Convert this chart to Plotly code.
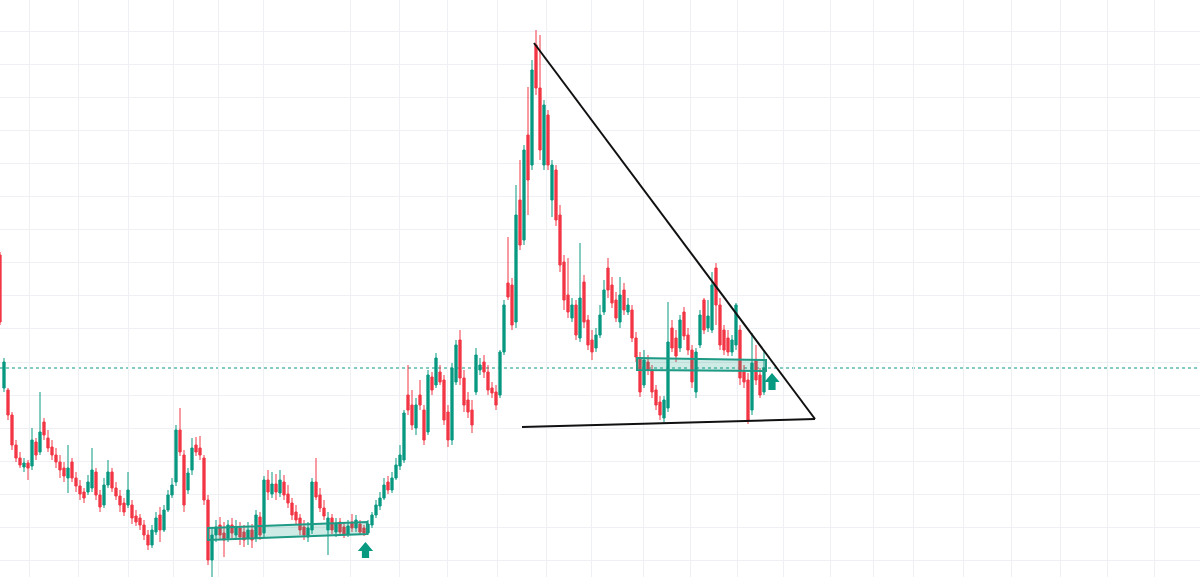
import plotly.graph_objects as go

# ---- data (candle index, OHLC) ----
opens = [345, 212, 210, 185, 155, 142, 133, 137, 134, 158, 148, 178, 162, 153, 145, 138, 132, 122, 138, 122, 114,
         108, 108, 112, 128, 105, 95, 115, 128, 112, 104, 97, 95, 95, 84, 82, 75, 65, 55, 68, 85, 70, 90, 105, 118,
         170, 145, 110, 130, 155, 152, 142, 100, 40, 65, 75, 67, 62, 75, 65, 72, 68, 62, 70, 62, 83, 67, 120, 106,
         116, 107, 118, 106, 97, 88, 82, 73, 63, 70, 118, 105, 92, 70, 82, 68, 78, 73, 66, 78, 72, 76, 72, 67, 75,
         85, 94, 102, 118, 110, 122, 134, 140, 205, 195, 172, 205, 190, 168, 223, 215, 228, 220, 188, 160, 218, 260,
         222, 200, 190, 208, 230, 238, 228, 212, 208, 205, 248, 317, 315, 278, 400, 360, 465, 435, 555, 512, 435, 485,
         400, 430, 385, 338, 305, 282, 295, 262, 318, 280, 260, 252, 265, 288, 332, 315, 300, 278, 310, 288, 290, 262,
         242, 215, 238, 230, 210, 198, 182, 192, 272, 262, 252, 288, 265, 250, 208, 255, 300, 272, 270, 332, 295, 270,
         262, 248, 255, 270, 228, 220, 190, 240, 225, 208]
highs = [348, 242, 212, 188, 160, 148, 142, 140, 172, 162, 208, 182, 170, 160, 152, 145, 138, 155, 142, 128, 120,
         112, 125, 152, 132, 110, 122, 140, 132, 118, 110, 102, 128, 100, 90, 86, 80, 70, 75, 88, 93, 95, 110, 122, 175,
         192, 150, 132, 162, 163, 164, 145, 105, 72, 80, 83, 78, 80, 82, 80, 78, 75, 78, 76, 90, 88, 124, 130, 128,
         126, 130, 125, 115, 102, 95, 86, 80, 78, 122, 142, 112, 100, 88, 86, 82, 82, 78, 80, 86, 85, 80, 75, 80, 88,
         100, 108, 122, 124, 128, 142, 155, 190, 235, 210, 202, 220, 195, 230, 228, 247, 235, 225, 195, 237, 260, 270,
         230, 208, 200, 252, 242, 245, 235, 218, 215, 250, 300, 363, 322, 415, 440, 455, 513, 540, 570, 565, 500, 490,
         440, 435, 395, 345, 342, 302, 300, 357, 325, 285, 270, 272, 295, 320, 342, 323, 308, 323, 317, 302, 295, 268,
         248, 250, 245, 235, 215, 204, 204, 298, 280, 270, 285, 293, 272, 255, 252, 290, 302, 300, 328, 337, 302, 275,
         270, 265, 297, 275, 235, 227, 267, 255, 232, 250]
lows = [275, 208, 180, 150, 138, 132, 128, 120, 130, 140, 145, 160, 148, 140, 132, 122, 118, 107, 118, 108, 100,
        97, 105, 108, 100, 88, 92, 112, 108, 100, 88, 84, 92, 76, 74, 70, 60, 50, 52, 65, 58, 68, 88, 102, 114,
        144, 88, 106, 125, 144, 140, 95, 35, 23, 58, 60, 43, 58, 62, 60, 55, 53, 55, 52, 58, 60, 63, 100, 102,
        100, 103, 100, 92, 80, 75, 65, 60, 58, 66, 100, 88, 80, 45, 66, 63, 64, 62, 63, 68, 68, 65, 64, 65, 72,
        82, 90, 100, 106, 107, 120, 130, 137, 185, 170, 165, 190, 155, 165, 205, 212, 215, 175, 153, 155, 215, 215,
        188, 182, 167, 205, 225, 222, 205, 202, 190, 202, 245, 300, 270, 272, 350, 355, 385, 430, 505, 440, 430, 430,
        383, 374, 328, 290, 282, 278, 260, 258, 272, 250, 240, 248, 262, 285, 302, 292, 278, 272, 285, 285, 258, 238,
        203, 212, 225, 202, 190, 180, 176, 188, 248, 238, 248, 260, 245, 212, 202, 252, 266, 268, 267, 275, 250, 245,
        244, 244, 250, 215, 212, 176, 185, 215, 202, 205]
closes = [278, 238, 185, 155, 142, 135, 137, 132, 160, 145, 168, 165, 152, 145, 138, 130, 124, 132, 122, 114, 106,
          102, 118, 130, 105, 93, 115, 128, 112, 104, 95, 88, 110, 82, 78, 75, 65, 55, 70, 82, 70, 90, 105, 115, 170,
          148, 95, 127, 152, 148, 145, 100, 40, 65, 73, 65, 60, 75, 67, 73, 63, 60, 70, 60, 85, 65, 120, 108, 116,
          108, 120, 105, 97, 85, 80, 70, 65, 72, 118, 103, 92, 84, 82, 70, 76, 68, 65, 74, 72, 80, 68, 67, 76, 85,
          95, 102, 115, 110, 122, 135, 145, 187, 190, 175, 195, 195, 160, 225, 210, 242, 218, 180, 160, 232, 255, 222,
          195, 188, 175, 245, 235, 228, 210, 207, 195, 248, 295, 303, 275, 385, 355, 450, 420, 530, 512, 450, 495, 435,
          435, 380, 335, 300, 288, 295, 265, 302, 278, 255, 248, 265, 285, 310, 310, 297, 282, 305, 290, 295, 262, 243,
          208, 240, 230, 208, 195, 185, 200, 258, 252, 244, 280, 264, 250, 218, 248, 285, 270, 284, 315, 295, 255, 250,
          248, 260, 295, 222, 218, 180, 237, 220, 205, 232]
candle_index = list(range(-1, len(closes) - 1))

# drawn objects (candle index, price)
trend_top = [(132.5, 557), (202.75, 181)]
trend_bottom = [(129.5, 173), (202.75, 181)]
zone_left = [(51, 72), (90.75, 78), (90.75, 66), (51, 60)]
zone_right = [(158.25, 242), (190.5, 240), (190.5, 229), (158.25, 230)]
arrow_left = (90.375, 58, 49, 42)    # x centre, tip price, head base, tail
arrow_right = (192.0, 227, 218, 210)
vgrid = [6.25, 18.5, 31, 42.25, 53.5, 64.75, 86.5, 98.75, 110.75, 123.25, 135.5, 146.75, 159.75, 171.5,
         183.25, 194.75, 206.5, 217.25, 227.25, 239.75, 251.75, 264, 275.75, 287.5]

GREEN = "#089981"
RED = "#F23645"

fig = go.Figure(go.Candlestick(
    x=candle_index, open=opens, high=highs, low=lows, close=closes,
    increasing=dict(line=dict(color=GREEN, width=1), fillcolor=GREEN),
    decreasing=dict(line=dict(color=RED, width=1), fillcolor=RED),
    whiskerwidth=0, hoverinfo="skip", showlegend=False,
))

shapes = []
# last price dotted line
shapes.append(dict(type="line", xref="paper", x0=0, x1=1, y0=closes[-1], y1=closes[-1],
                   line=dict(color=GREEN, width=1, dash="dot"), layer="below"))


def poly(points):
    return "M " + " L ".join(f"{x},{y}" for x, y in points) + " Z"


for z in (zone_left, zone_right):
    shapes.append(dict(type="path", path=poly(z), fillcolor="rgba(8,153,129,0.2)",
                       line=dict(color="#1e9a85", width=2), layer="above"))

for a, b in (trend_top, trend_bottom):
    shapes.append(dict(type="line", x0=a[0], y0=a[1], x1=b[0], y1=b[1],
                       line=dict(color="#111111", width=2), layer="above"))

for cx, tip, base, tail in (arrow_left, arrow_right):
    hw, sw = 1.9, 0.9
    pts = [(cx, tip), (cx + hw, base), (cx + sw, base), (cx + sw, tail),
           (cx - sw, tail), (cx - sw, base), (cx - hw, base)]
    shapes.append(dict(type="path", path=poly(pts), fillcolor=GREEN, line=dict(width=0), layer="above"))

fig.update_layout(
    width=1200, height=577, margin=dict(l=0, r=0, t=0, b=0),
    paper_bgcolor="white", plot_bgcolor="white",
    shapes=shapes, showlegend=False, boxgap=0.2,
    xaxis=dict(range=[-1, 299], rangeslider=dict(visible=False), showticklabels=False,
               tickmode="array", tickvals=vgrid, showgrid=True, gridcolor="#eef0f3", gridwidth=1,
               zeroline=False, showline=False, ticks=""),
    yaxis=dict(range=[23, 600], showticklabels=False, tick0=569, dtick=33.1,
               showgrid=True, gridcolor="#eef0f3", gridwidth=1, zeroline=False, showline=False, ticks=""),
)

fig.write_html("out.html", config={"displayModeBar": False},
               post_script="document.body.style.margin='0';document.body.style.overflow='hidden';")
